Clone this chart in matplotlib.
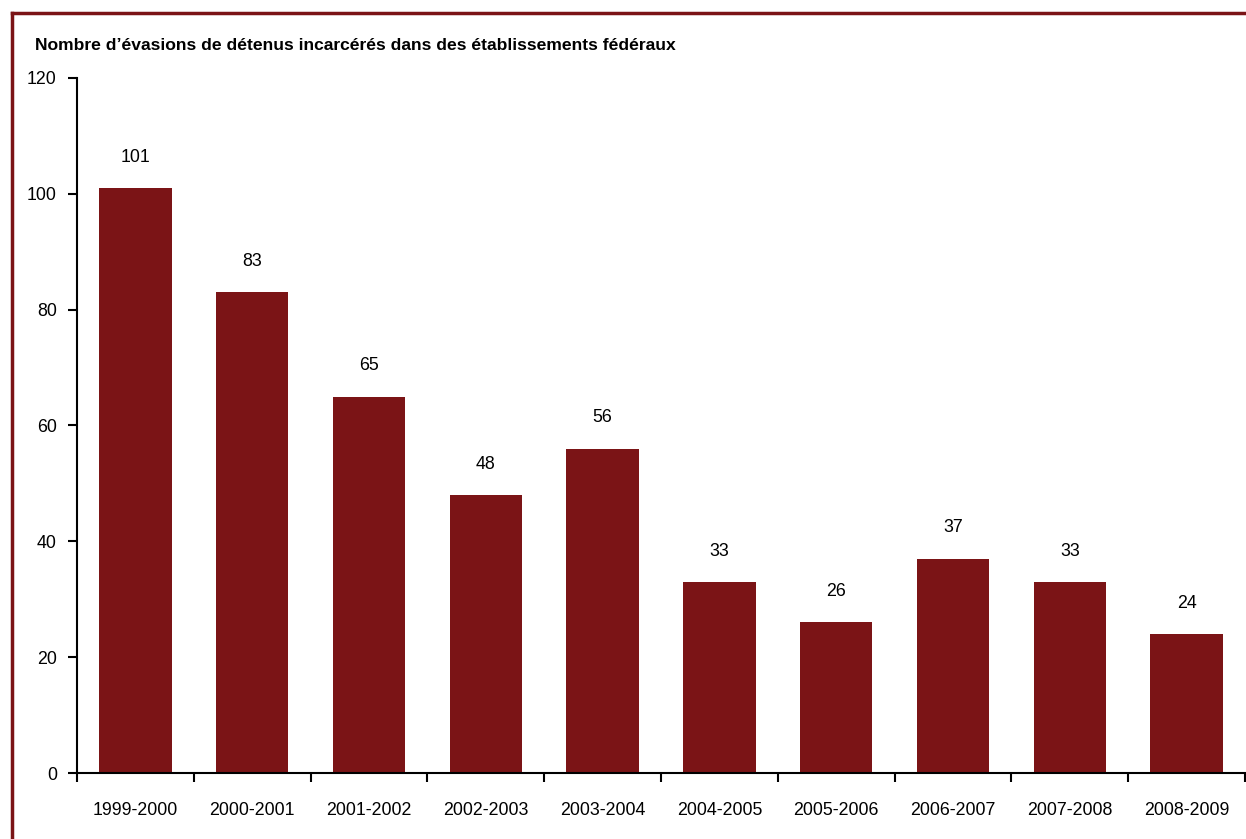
import matplotlib
matplotlib.use("Agg")
import matplotlib.pyplot as plt
from matplotlib.lines import Line2D
from matplotlib import font_manager
import numpy as np

periods = ["1999-2000", "2000-2001", "2001-2002", "2002-2003", "2003-2004",
           "2004-2005", "2005-2006", "2006-2007", "2007-2008", "2008-2009"]
escapes = [101, 83, 65, 48, 56, 33, 26, 37, 33, 24]
title = "Nombre d’évasions de détenus incarcérés dans des établissements fédéraux"

names = {f.name for f in font_manager.fontManager.ttflist}
if 'Liberation Sans Narrow' in names:
    fam = ['Liberation Sans Narrow', 'DejaVu Sans']
    fs, tfs = 15, 15
else:
    fam = ['Liberation Sans', 'DejaVu Sans']
    fs, tfs = 12.8, 12.6
plt.rcParams['font.family'] = fam
color = "#7B1416"

fig = plt.figure(figsize=(12.46, 8.39), dpi=100)
ax = fig.add_axes([77/1246, 1-773/839, (1245-77)/1246, (773-78)/839])

x = np.arange(len(periods))
ax.bar(x, escapes, width=0.62, color=color)
for xi, v in zip(x, escapes):
    ax.annotate(str(v), (xi, v), xytext=(0, 16), textcoords='offset points',
                ha='center', va='bottom', fontsize=fs)

ax.set_xlim(-0.5, len(periods) - 0.5)
ax.set_ylim(0, 120)
ax.set_yticks(np.arange(0, 121, 20))
ax.set_xticks(x)
ax.set_xticklabels(periods)
ax.set_xticks(np.arange(-0.5, len(periods), 1.0), minor=True)
ax.tick_params(axis='x', which='major', length=0, pad=21, labelsize=fs)
ax.tick_params(axis='x', which='minor', length=6.5, width=1.5, direction='out')
ax.tick_params(axis='y', length=6.5, width=1.5, direction='out', pad=8, labelsize=fs)
for s in ['top', 'right']:
    ax.spines[s].set_visible(False)
for s in ['left', 'bottom']:
    ax.spines[s].set_linewidth(1.5)

fig.text(35/1246, 1-45/839, title, fontsize=tfs, fontweight='bold', ha='left', va='center')

bx = 11.5/1246
by = 1-12.5/839
fig.add_artist(Line2D([bx, bx], [-0.01, by], transform=fig.transFigure, color=color, lw=2.5))
fig.add_artist(Line2D([bx, 1.01], [by, by], transform=fig.transFigure, color=color, lw=2.5))

fig.savefig("out.png", dpi=100)
